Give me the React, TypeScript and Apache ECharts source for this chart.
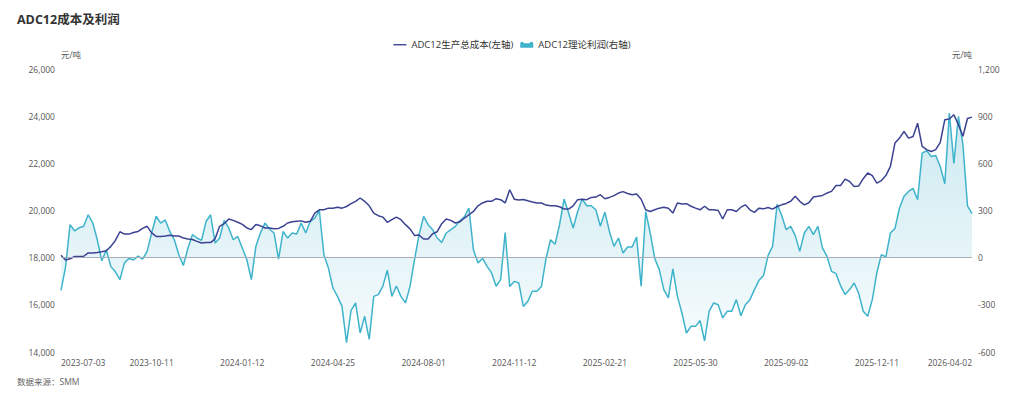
import React, { useEffect, useRef } from "react";
import * as echarts from "echarts";

const tickLabels = [
  "2023-07-03", "2023-10-11", "2024-01-12", "2024-04-25", "2024-08-01", "2024-11-12",
  "2025-02-21", "2025-05-30", "2025-09-02", "2025-12-11", "2026-04-02",
];
const tickIndex = [0, 20, 40, 60, 80, 100, 120, 140, 160, 180, 201];

const costValues = [
  18100, 17900, 17950, 18050, 18050, 18060, 18200, 18200, 18220, 18250,
  18290, 18480, 18730, 19100, 19000, 19000, 19070, 19110, 19240, 19330,
  19050, 18900, 18900, 18920, 18950, 18920, 18920, 18830, 18790, 18770,
  18690, 18620, 18640, 18640, 18800, 19330, 19440, 19640, 19580, 19500,
  19410, 19260, 19190, 19410, 19350, 19260, 19260, 19230, 19240, 19330,
  19470, 19520, 19540, 19560, 19500, 19540, 19890, 20030, 20030, 20100,
  20100, 20140, 20100, 20170, 20290, 20390, 20530, 20390, 20200, 19890,
  19780, 19720, 19500, 19610, 19720, 19610, 19400, 19220, 18945, 18960,
  18790, 18790, 19015, 19100, 19440, 19640, 19580, 19470, 19520, 19680,
  19820, 19960, 20200, 20320, 20390, 20390, 20500, 20460, 20320, 20880,
  20480, 20445, 20470, 20410, 20360, 20320, 20320, 20230, 20200, 20200,
  20160, 20060, 20060, 20200, 20460, 20480, 20460, 20555, 20570, 20670,
  20500, 20555, 20630, 20740, 20800, 20720, 20670, 20700, 20480, 20030,
  19960, 20030, 20100, 20140, 20100, 19890, 20320, 20280, 20290, 20180,
  20100, 20030, 20180, 20030, 20030, 20000, 19640, 20030, 20030, 19960,
  20140, 20240, 20030, 19920, 20100, 20070, 20130, 20060, 20170, 20240,
  20300, 20390, 20600, 20390, 20240, 20330, 20570, 20600, 20640, 20740,
  20810, 21060, 21060, 21330, 21230, 21020, 21040, 21350, 21590, 21480,
  21160, 21270, 21480, 21870, 22860, 23070, 23350, 23070, 23140, 23700,
  22720, 22580, 22500, 22580, 22890, 23850, 23880, 24060, 23640, 23150,
  23900, 23960,
];

const profitValues = [
  -208, -60, 210, 170, 190, 200, 273, 222, 114, -20,
  50, -57, -90, -140, -33, -5, -15, 10, -10, 40,
  157, 263, 220, 240, 167, 114, 19, -50, 60, 146,
  125, 110, 230, 273, 93, 125, 237, 189, 114, 135,
  62, -13, -140, 72, 157, 220, 182, 157, -10, 167,
  125, 157, 150, 220, 157, 231, 252, 300, 19, -66,
  -193, -246, -310, -540, -335, -288, -479, -373, -520, -246,
  -235, -182, -80, -246, -180, -246, -288, -184, -13, 146,
  263, 210, 178, 125, 97, 157, 178, 199, 235, 260,
  316, 50, -34, -5, -55, -97, -182, -140, 160, -184,
  -151, -161, -310, -278, -214, -214, -184, -8, 114, 85,
  210, 373, 284, 189, 294, 373, 330, 330, 305, 200,
  290, 167, 72, 125, 30, 68, 68, 131, -182, 294,
  157, -5, -76, -203, -256, -72, -246, -352, -479, -437,
  -437, -400, -530, -341, -288, -299, -383, -341, -341, -267,
  -369, -299, -267, -203, -144, -114, 13, 72, 340, 270,
  178, 199, 140, 40, 157, 199, 146, 199, 62, 8,
  -87, -102, -178, -235, -203, -161, -227, -341, -373, -267,
  -97, 19, 5, 157, 185, 316, 390, 421, 440, 369,
  665, 680, 644, 650, 580, 470, 920, 600, 898, 720,
  330, 280,
];

const costName = "ADC12生产总成本(左轴)";
const profitName = "ADC12理论利润(右轴)";

function buildCategories(): string[] {
  const out: string[] = [];
  const day = 86400000;
  for (let s = 0; s < tickLabels.length - 1; s++) {
    const a = Date.parse(tickLabels[s] + "T00:00:00Z");
    const b = Date.parse(tickLabels[s + 1] + "T00:00:00Z");
    const i0 = tickIndex[s];
    const i1 = tickIndex[s + 1];
    for (let i = i0; i < i1; i++) {
      const t = a + ((b - a) * (i - i0)) / (i1 - i0);
      out.push(new Date(Math.round(t / day) * day).toISOString().slice(0, 10));
    }
  }
  out.push(tickLabels[tickLabels.length - 1]);
  return out;
}

const FONT = "'Open Sans', 'Noto Sans CJK SC', 'Noto Sans', sans-serif";
const LABEL = "#555555";

export default function App() {
  const ref = useRef<HTMLDivElement>(null);

  useEffect(() => {
    document.body.style.margin = "0";
    if (!ref.current) return;
    const chart = echarts.init(ref.current, undefined, { renderer: "svg" });
    const categories = buildCategories();

    chart.setOption({
      animation: false,
      backgroundColor: "#ffffff",
      textStyle: { fontFamily: FONT },
      title: {
        text: "ADC12成本及利润",
        left: 12,
        top: 8,
        textStyle: { fontSize: 12.5, fontWeight: "bold", color: "#333333", fontFamily: FONT },
      },
      legend: {
        top: 35,
        left: "center",
        itemWidth: 13,
        itemHeight: 7,
        itemGap: 7,
        textStyle: { fontSize: 9.5, color: "#333333", fontFamily: FONT },
        data: [
          { name: costName, icon: "path://M0,4 L14,4 L14,5.5 L0,5.5 Z" },
          {
            name: profitName,
            icon: "path://M0,8 L0,3 Q2,0 4,3 L10,3 Q12,0 14,3 L14,8 Z",
          },
        ],
      },
      grid: { left: 61, right: 52, top: 69, bottom: 47 },
      xAxis: {
        type: "category",
        data: categories,
        boundaryGap: false,
        axisLine: { show: false },
        axisTick: { show: false },
        splitLine: { show: false },
        axisLabel: {
          interval: (_i: number, v: string) => tickLabels.includes(v),
          alignMinLabel: "left",
          alignMaxLabel: "right",
          showMaxLabel: true,
          color: LABEL,
          fontSize: 8.5,
          margin: 6,
          fontFamily: FONT,
        },
      },
      yAxis: [
        {
          type: "value",
          min: 14000,
          max: 26000,
          interval: 2000,
          name: "元/吨",
          nameGap: 10,
          nameTextStyle: { align: "left", color: LABEL, fontSize: 8.5, fontFamily: FONT },
          axisLine: { show: false },
          axisTick: { show: false },
          splitLine: { show: false },
          axisLabel: { color: LABEL, fontSize: 8.5, margin: 6, fontFamily: FONT },
        },
        {
          type: "value",
          min: -600,
          max: 1200,
          interval: 300,
          name: "元/吨",
          nameGap: 10,
          nameTextStyle: { align: "right", color: LABEL, fontSize: 8.5, fontFamily: FONT },
          axisLine: { show: false },
          axisTick: { show: false },
          splitLine: { show: false },
          axisLabel: { color: LABEL, fontSize: 8.5, margin: 6, fontFamily: FONT },
        },
      ],
      series: [
        {
          name: costName,
          type: "line",
          yAxisIndex: 0,
          data: costValues,
          symbol: "none",
          showSymbol: false,
          lineStyle: { color: "#3b4292", width: 1.5 },
          itemStyle: { color: "#3b4292" },
          z: 3,
        },
        {
          name: profitName,
          type: "line",
          yAxisIndex: 1,
          data: profitValues,
          symbol: "none",
          showSymbol: false,
          lineStyle: { color: "#3fb3cb", width: 1.5 },
          itemStyle: { color: "#3fb3cb" },
          areaStyle: {
            color: new echarts.graphic.LinearGradient(0, 0, 0, 1, [
              { offset: 0, color: "#b6e0ea" },
              { offset: 1, color: "#f3fafc" },
            ]),
          },
          markLine: {
            silent: true,
            symbol: ["none", "none"],
            label: { show: false },
            lineStyle: { color: "#a8adb7", type: "solid", width: 1 },
            data: [{ yAxis: 0 }],
          },
          z: 2,
        },
      ],
      graphic: [
        {
          type: "text",
          left: 17,
          top: 377,
          style: {
            text: "数据来源：SMM",
            fill: "#666666",
            fontSize: 8.5,
            fontFamily: FONT,
          },
        },
      ],
    });

    return () => chart.dispose();
  }, []);

  return (
    <div
      ref={ref}
      style={{ position: "fixed", left: 0, top: 0, width: 1024, height: 399, background: "#fff" }}
    />
  );
}
